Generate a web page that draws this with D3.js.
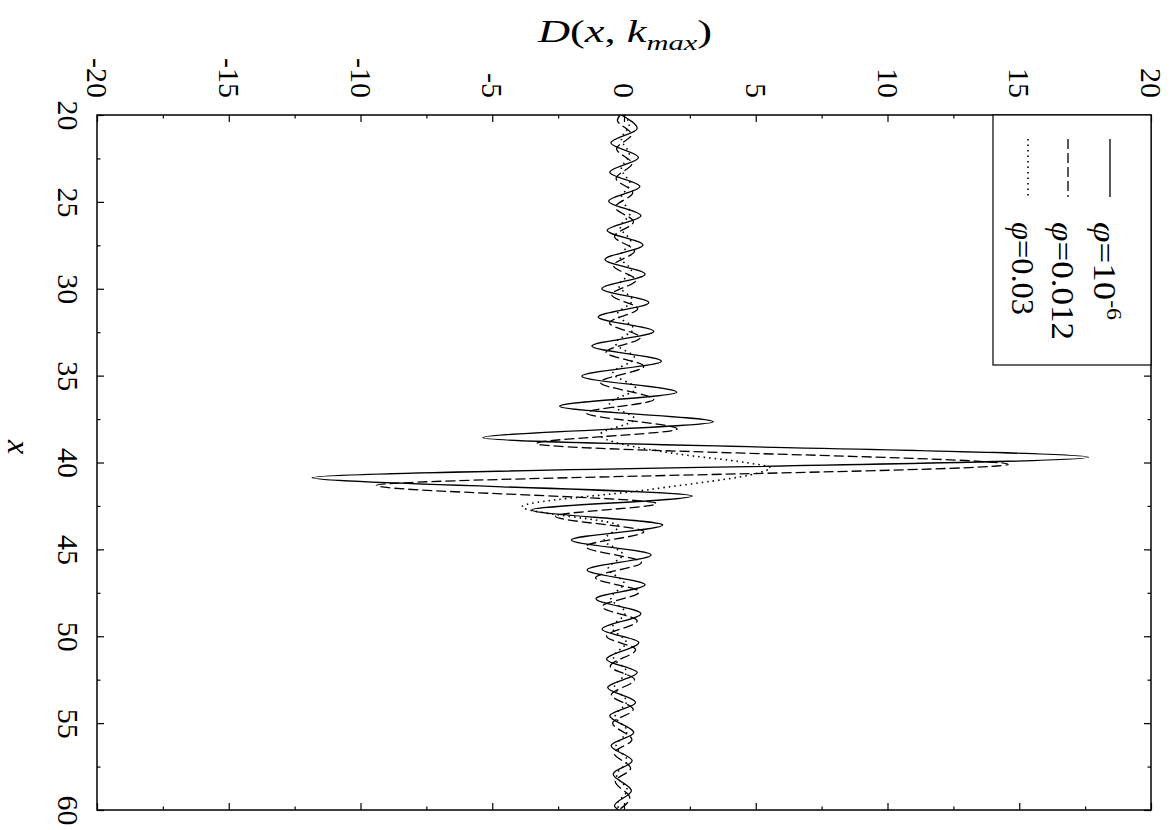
<!DOCTYPE html>
<html>
<head>
<meta charset="utf-8">
<script src="https://cdn.jsdelivr.net/npm/d3@7"></script>
<style>
  body { margin: 0; background: #fff; }
  svg text { font-family: "Liberation Serif", "DejaVu Serif", serif; fill: #000; }
</style>
</head>
<body>
<svg id="chart" width="1171" height="830"></svg>
<script>
// tick labels
var xTicks = [20, 25, 30, 35, 40, 45, 50, 55, 60];
var dTicks = [-20, -15, -10, -5, 0, 5, 10, 15, 20];

// phi = 1e-6 (solid), turning points
var xSolid = [20.0, 20.77, 21.6, 22.45, 23.3, 24.12, 24.96, 25.8, 26.64, 27.48, 28.32, 29.16, 30.0, 30.8, 31.62,
    32.46, 33.3, 34.17, 35.03, 35.96, 36.76, 37.66, 38.58, 39.7, 40.87, 41.93, 42.73, 43.6, 44.46, 45.32,
    46.18, 47.04, 47.84, 48.7, 49.6, 50.36, 51.32, 52.09, 52.95, 53.81, 54.58, 55.54, 56.3, 57.17, 57.93,
    58.89, 59.75, 60.0];
var dSolid = [-0.1, 0.5, -0.5, 0.55, -0.54, 0.6, -0.58, 0.64, -0.64, 0.72, -0.72, 0.8, -0.84, 0.94, -0.98,
    1.13, -1.22, 1.42, -1.6, 2.0, -2.44, 3.39, -5.35, 17.63, -11.84, 2.59, -3.49, 1.47, -2.0, 1.03,
    -1.4, 0.8, -1.06, 0.64, -0.83, 0.56, -0.66, 0.5, -0.62, 0.44, -0.54, 0.37, -0.49, 0.31, -0.41,
    0.28, -0.36, -0.2];

// phi = 0.012 (dashed)
var xDash = [20.0, 20.3, 21.12, 21.95, 22.8, 23.65, 24.47, 25.31, 26.15, 26.99, 27.83, 28.67, 29.51, 30.35, 31.15,
    31.97, 32.81, 33.65, 34.47, 35.38, 36.38, 37.15, 38.07, 38.91, 40.11, 41.32, 42.36, 43.09, 43.98, 44.84,
    45.75, 46.63, 47.45, 48.3, 49.12, 50.0, 50.78, 51.72, 52.5, 53.37, 54.22, 55.0, 55.95, 56.72, 57.6,
    58.36, 59.3, 60.0];
var dDash = [-0.15, -0.25, 0.28, -0.28, 0.3, -0.3, 0.33, -0.33, 0.36, -0.36, 0.4, -0.4, 0.45, -0.47, 0.52,
    -0.55, 0.62, -0.68, 0.75, -0.9, 1.13, -1.42, 2.02, -3.32, 14.58, -9.4, 1.23, -2.6, 0.75, -1.46,
    0.66, -1.08, 0.58, -0.83, 0.5, -0.66, 0.44, -0.52, 0.4, -0.48, 0.35, -0.43, 0.3, -0.38, 0.25,
    -0.33, 0.22, -0.2];

// phi = 0.03 (dotted)
var xDot = [20.0, 20.55, 21.4, 22.25, 23.1, 23.95, 24.8, 25.62, 26.46, 27.3, 28.14, 28.98, 29.82, 30.66, 31.48,
    32.3, 33.14, 33.98, 34.85, 35.75, 36.6, 37.5, 38.4, 39.5, 40.0, 40.3, 40.6, 41.55, 42.55, 43.66,
    44.45, 45.3, 46.1, 46.95, 47.8, 48.65, 49.5, 50.35, 51.2, 52.05, 52.9, 53.75, 54.6, 55.45, 56.3,
    57.15, 58.0, 58.85, 59.7, 60.0];
var dDot = [0.0, 0.2, -0.1, 0.2, -0.1, 0.22, -0.12, 0.24, -0.14, 0.26, -0.16, 0.28, -0.2, 0.32, -0.26,
    0.36, -0.32, 0.4, -0.42, 0.45, -0.55, 0.4, -0.9, 2.0, 4.6, 5.56, 5.1, 1.0, -3.87, -0.2,
    -0.75, -0.05, -0.6, 0.0, -0.5, 0.05, -0.45, 0.08, -0.4, 0.1, -0.36, 0.1, -0.33, 0.12, -0.3,
    0.12, -0.28, 0.12, -0.26, -0.1];

var seriesNames = ["10", "0.012", "0.03"];
var seriesDash = [null, "10,4", "1.5,4"];

var serif = "'Liberation Serif', 'DejaVu Serif', serif";

var margin = { top: 115, right: 20, bottom: 20, left: 97 },
    width = 1151 - margin.left,
    height = 810 - margin.top;

var svg = d3.select("#chart");

var x = d3.scaleLinear().domain([20, 60]).range([0, height]);   // runs down the page
var d = d3.scaleLinear().domain([-20, 20]).range([0, width]);

var g = svg.append("g")
    .attr("transform", "translate(" + margin.left + "," + margin.top + ")");

function noDomain(sel) { sel.select(".domain").remove(); }

// minor ticks on all four sides
var dMinor = d3.range(-17.5, 20, 5), xMinor = d3.range(22.5, 60, 5);
g.append("g").call(d3.axisTop(d).tickValues(dMinor).tickSize(-3.5).tickFormat("")).call(noDomain);
g.append("g").attr("transform", "translate(0," + height + ")")
    .call(d3.axisBottom(d).tickValues(dMinor).tickSize(-3.5).tickFormat("")).call(noDomain);
g.append("g").call(d3.axisLeft(x).tickValues(xMinor).tickSize(-3.5).tickFormat("")).call(noDomain);
g.append("g").attr("transform", "translate(" + width + ",0)")
    .call(d3.axisRight(x).tickValues(xMinor).tickSize(-3.5).tickFormat("")).call(noDomain);

// major ticks, labels rotated like the original
var topAxis = g.append("g")
    .call(d3.axisTop(d).tickValues(dTicks).tickSize(-7).tickFormat(function (v) { return String(v); }))
    .call(noDomain)
    .attr("font-size", 30).attr("font-family", serif);
topAxis.selectAll("text")
    .attr("font-family", serif)
    .attr("transform", "rotate(90)")
    .attr("x", -17).attr("y", 0).attr("dy", "0.35em")
    .attr("text-anchor", "end");

var leftAxis = g.append("g")
    .call(d3.axisLeft(x).tickValues(xTicks).tickSize(-7).tickFormat(function (v) { return String(v); }))
    .call(noDomain)
    .attr("font-size", 30).attr("font-family", serif);
leftAxis.selectAll("text")
    .attr("font-family", serif)
    .attr("transform", "rotate(90)")
    .attr("x", 0).attr("y", 39).attr("dy", 0)
    .attr("text-anchor", "middle");

g.append("g").attr("transform", "translate(0," + height + ")")
    .call(d3.axisBottom(d).tickValues(dTicks).tickSize(-7).tickFormat("")).call(noDomain);
g.append("g").attr("transform", "translate(" + width + ",0)")
    .call(d3.axisRight(x).tickValues(xTicks).tickSize(-7).tickFormat("")).call(noDomain);

g.selectAll(".tick line").attr("stroke", "#000").attr("stroke-width", 1.2);

// curves
var line = d3.line()
    .x(function (p) { return d(p[1]); })
    .y(function (p) { return x(p[0]); })
    .curve(d3.curveMonotoneY);

var series = [d3.zip(xSolid, dSolid), d3.zip(xDash, dDash), d3.zip(xDot, dDot)];

g.selectAll(".curve")
    .data(series)
    .enter().append("path")
    .attr("class", "curve")
    .attr("fill", "none")
    .attr("stroke", "#000")
    .attr("stroke-width", function (s, i) { return i == 2 ? 1.6 : 1.3; })
    .attr("stroke-dasharray", function (s, i) { return seriesDash[i]; })
    .attr("d", line);

// frame
g.append("rect")
    .attr("width", width).attr("height", height)
    .attr("fill", "none").attr("stroke", "#000").attr("stroke-width", 1.5);

// legend
var lg = svg.append("g");
lg.append("rect")
    .attr("x", 993).attr("y", 115).attr("width", 158).attr("height", 250)
    .attr("fill", "#fff").attr("stroke", "#000").attr("stroke-width", 1.2);

var sampleX = [1110, 1068, 1028];
var labelLen = [98, 118, 93];
seriesNames.forEach(function (name, i) {
    lg.append("line")
        .attr("x1", sampleX[i]).attr("x2", sampleX[i])
        .attr("y1", 139).attr("y2", 197)
        .attr("stroke", "#000").attr("stroke-width", i == 2 ? 1.6 : 1.3)
        .attr("stroke-dasharray", seriesDash[i]);
    var t = lg.append("text")
        .attr("transform", "translate(" + (sampleX[i] - 16) + ",222) rotate(90)")
        .attr("font-family", serif)
        .attr("font-size", 31)
        .attr("textLength", labelLen[i]).attr("lengthAdjust", "spacingAndGlyphs");
    t.append("tspan").attr("font-style", "italic").text("\u03c6");
    t.append("tspan").text("=" + name);
    if (i == 0) {
        t.append("tspan").attr("font-size", 20).attr("dy", -13).text("-6");
    }
});

// axis titles
var title = svg.append("text")
    .attr("x", 625).attr("y", 42)
    .attr("text-anchor", "middle")
    .attr("font-family", serif)
    .attr("font-size", 32)
    .attr("textLength", 174).attr("lengthAdjust", "spacingAndGlyphs");
title.append("tspan").attr("font-style", "italic").text("D");
title.append("tspan").text("(");
title.append("tspan").attr("font-style", "italic").text("x");
title.append("tspan").text(", ");
title.append("tspan").attr("font-style", "italic").text("k");
title.append("tspan").attr("font-style", "italic").attr("font-size", 22).attr("dy", 8).text("max");
title.append("tspan").attr("dy", -8).text(")");

svg.append("text")
    .attr("transform", "translate(8,447) rotate(90)")
    .attr("text-anchor", "middle")
    .attr("font-family", serif)
    .attr("font-size", 32)
    .attr("font-style", "italic")
    .text("x");
</script>
</body>
</html>
